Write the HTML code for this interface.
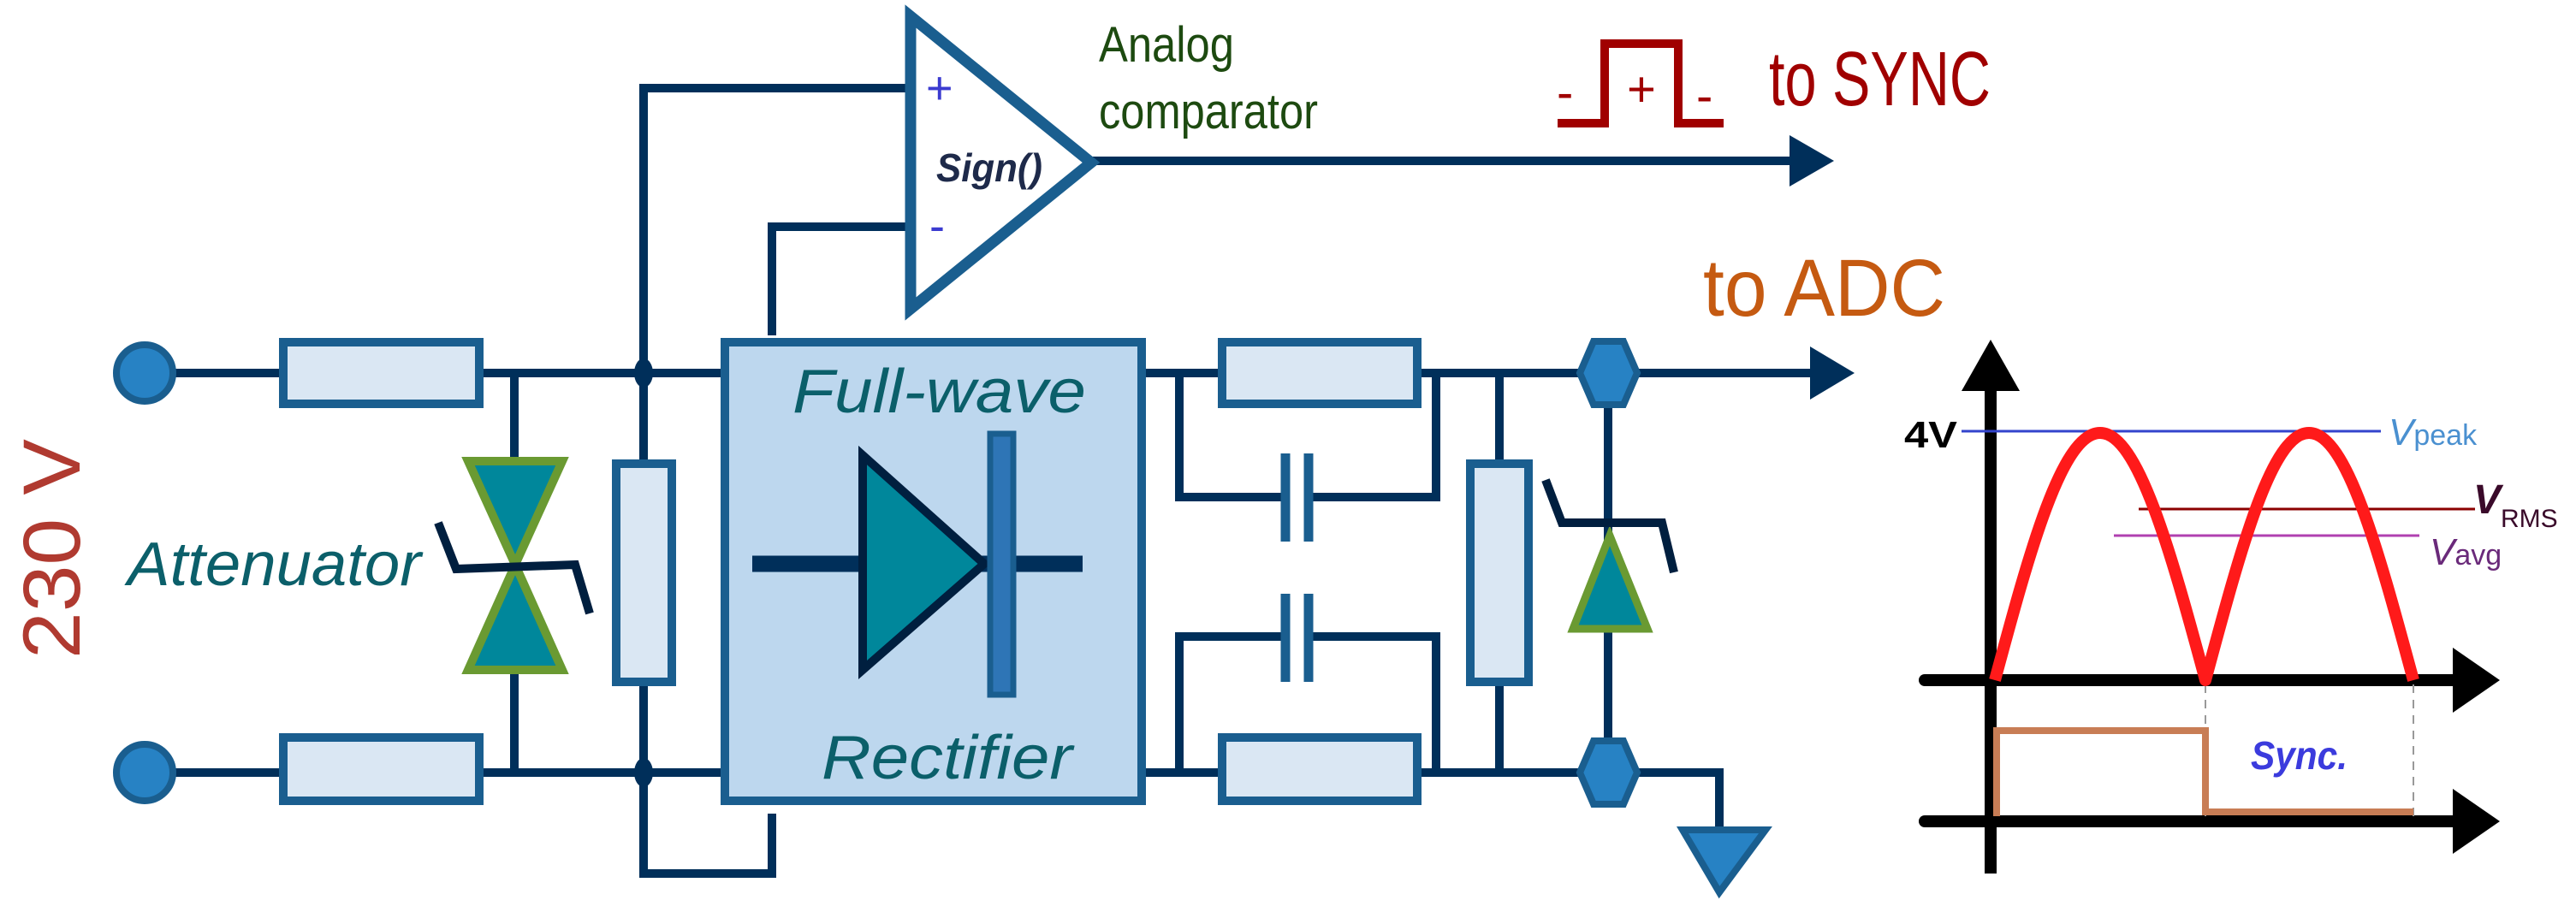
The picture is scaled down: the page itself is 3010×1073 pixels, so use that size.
<!DOCTYPE html>
<html><head><meta charset="utf-8"><style>
html,body{margin:0;padding:0;background:#fff;}
svg{display:block;}
text{font-family:"Liberation Sans",sans-serif;}
</style></head><body>
<svg width="3010" height="1073" viewBox="0 0 3010 1073" xmlns="http://www.w3.org/2000/svg">
<g fill="none" stroke="#002f5a" stroke-width="10">
  <line x1="169" y1="436" x2="847" y2="436"/>
  <line x1="169" y1="903" x2="847" y2="903"/>
  <line x1="601" y1="436" x2="601" y2="540"/>
  <line x1="601" y1="782" x2="601" y2="903"/>
  <polyline points="1061,103 752,103 752,1021 902,1021 902,951"/>
  <polyline points="1061,265 902,265 902,392"/>
  <line x1="1277" y1="188" x2="2100" y2="188"/>
  <line x1="1334" y1="436" x2="1850" y2="436"/>
  <line x1="1334" y1="903" x2="1850" y2="903"/>
  <polyline points="1378,436 1378,581 1502,581"/>
  <polyline points="1529,581 1678,581 1678,436"/>
  <polyline points="1378,903 1378,744 1502,744"/>
  <polyline points="1529,744 1678,744 1678,903"/>
  <line x1="1752" y1="436" x2="1752" y2="903"/>
  <line x1="1879" y1="436" x2="1879" y2="903"/>
  <line x1="1913" y1="436" x2="2125" y2="436"/>
  <polyline points="1913,903 2009,903 2009,972"/>
</g>
<g stroke="#1a5e8f" stroke-width="11">
  <line x1="1502" y1="530" x2="1502" y2="633"/>
  <line x1="1529" y1="530" x2="1529" y2="633"/>
  <line x1="1502" y1="694" x2="1502" y2="797"/>
  <line x1="1529" y1="694" x2="1529" y2="797"/>
</g>
<polygon points="2091,158 2143,188 2091,218" fill="#002f5a"/>
<polygon points="2115,405 2167,436 2115,467" fill="#002f5a"/>
<circle cx="169" cy="436" r="33" fill="#2782c4" stroke="#1a5e8f" stroke-width="8"/>
<circle cx="169" cy="903" r="33" fill="#2782c4" stroke="#1a5e8f" stroke-width="8"/>
<g fill="#dae7f3" stroke="#1a5e8f" stroke-width="10">
  <rect x="331" y="400" width="229" height="72"/>
  <rect x="331" y="862" width="229" height="74"/>
  <rect x="720" y="542" width="65" height="255"/>
  <rect x="1428" y="400" width="228" height="72"/>
  <rect x="1428" y="862" width="228" height="74"/>
  <rect x="1718" y="542" width="68" height="255"/>
</g>
<ellipse cx="752" cy="436" rx="11" ry="17" fill="#002f5a"/>
<ellipse cx="752" cy="903" rx="11" ry="17" fill="#002f5a"/>
<polygon points="547,539 657,539 602,660 657,783 547,783 602,660" fill="#00879b" stroke="#6a9a32" stroke-width="10" stroke-linejoin="miter"/>
<polyline points="512,611 533,665 672,660 689,717" fill="none" stroke="#001f3f" stroke-width="10"/>
<polygon points="1064,19 1064,361 1275,190" fill="#fff" stroke="#1a5e8f" stroke-width="13" stroke-linejoin="miter"/>
<text x="1082" y="121" font-size="54" fill="#3b3bd0">+</text>
<text x="1086" y="282" font-size="54" fill="#3b3bd0">-</text>
<text x="1094" y="212" font-size="46" font-style="italic" font-weight="bold" fill="#1e2a4a" textLength="124" lengthAdjust="spacingAndGlyphs">Sign()</text>
<text x="1284" y="72" font-size="58" fill="#1d4a10" textLength="158" lengthAdjust="spacingAndGlyphs">Analog</text>
<text x="1284" y="150" font-size="58" fill="#1d4a10" textLength="256" lengthAdjust="spacingAndGlyphs">comparator</text>
<rect x="847" y="400" width="487" height="536" fill="#bdd7ee" stroke="#1a5e8f" stroke-width="10"/>
<line x1="879" y1="659" x2="1265" y2="659" stroke="#002f5a" stroke-width="19"/>
<polygon points="1008,532 1008,783 1150,659" fill="#00879b" stroke="#001f3f" stroke-width="10" stroke-linejoin="miter"/>
<rect x="1157" y="507" width="27" height="305" fill="#2e75b6" stroke="#1a5e8f" stroke-width="7"/>
<text x="926" y="482" font-size="72" font-style="italic" fill="#0b5f6a" textLength="343" lengthAdjust="spacingAndGlyphs">Full-wave</text>
<text x="960" y="910" font-size="72" font-style="italic" fill="#0b5f6a" textLength="293" lengthAdjust="spacingAndGlyphs">Rectifier</text>
<text x="149" y="684" font-size="72" font-style="italic" fill="#0b5f6a" textLength="343" lengthAdjust="spacingAndGlyphs">Attenuator</text>
<text transform="translate(93,770) rotate(-90)" font-size="95" fill="#b03a30" textLength="257" lengthAdjust="spacingAndGlyphs">230 V</text>
<polygon points="1881,626 1838,735 1925,735" fill="#00879b" stroke="#6a9a32" stroke-width="9" stroke-linejoin="miter"/>
<polyline points="1806,561 1825,611 1942,611 1956,669" fill="none" stroke="#001f3f" stroke-width="10"/>
<polygon points="1846,436 1862,399 1897,399 1913,436 1897,473 1862,473" fill="#2782c4" stroke="#1a5e8f" stroke-width="8"/>
<polygon points="1846,903 1862,866 1897,866 1913,903 1897,940 1862,940" fill="#2782c4" stroke="#1a5e8f" stroke-width="8"/>
<polygon points="1966,970 2063,970 2009,1043" fill="#2782c4" stroke="#1a5e8f" stroke-width="8" stroke-linejoin="miter"/>
<polyline points="1820,144 1875,144 1875,51 1961,51 1961,144 2014,144" fill="none" stroke="#a00000" stroke-width="10"/>
<text x="1819" y="128" font-size="58" fill="#a00000">-</text>
<text x="1901" y="124" font-size="58" fill="#a00000">+</text>
<text x="1982" y="132" font-size="58" fill="#a00000">-</text>
<text x="2067" y="123" font-size="90" fill="#a00000" textLength="259" lengthAdjust="spacingAndGlyphs">to SYNC</text>
<text x="1990" y="369" font-size="95" fill="#c55a11" textLength="283" lengthAdjust="spacingAndGlyphs">to ADC</text>
<g stroke="#000" stroke-width="14">
  <line x1="2326" y1="450" x2="2326" y2="1021"/>
  <line x1="2249" y1="795" x2="2870" y2="795" stroke-linecap="round"/>
  <line x1="2249" y1="960" x2="2870" y2="960" stroke-linecap="round"/>
</g>
<polygon points="2326,397 2292,457 2360,457" fill="#000"/>
<polygon points="2866,757 2921,795 2866,833" fill="#000"/>
<polygon points="2866,922 2921,960 2866,998" fill="#000"/>
<line x1="2577" y1="800" x2="2577" y2="955" stroke="#999" stroke-width="2" stroke-dasharray="10,8"/>
<line x1="2820" y1="800" x2="2820" y2="955" stroke="#999" stroke-width="2" stroke-dasharray="10,8"/>
<line x1="2292" y1="504" x2="2782" y2="504" stroke="#3344cc" stroke-width="3"/>
<line x1="2499" y1="595" x2="2892" y2="595" stroke="#8b0000" stroke-width="3"/>
<line x1="2470" y1="626" x2="2827" y2="626" stroke="#b040b0" stroke-width="3"/>
<path d="M2331,795 C2372,643 2409,506 2454,506 C2498,506 2536,643 2577,795 C2618,643 2654,506 2698,506 C2742,506 2779,643 2820,795" fill="none" stroke="#ff1a1a" stroke-width="14" stroke-linejoin="round"/>
<polyline points="2333,954 2333,854 2577,854 2577,949 2820,949" fill="none" stroke="#c87d55" stroke-width="8"/>
<text x="2225" y="523" font-size="44" font-weight="bold" fill="#000" textLength="62" lengthAdjust="spacingAndGlyphs">4V</text>
<text x="2791" y="520" font-size="44" font-style="italic" fill="#4a90d0">V<tspan font-size="34" font-style="normal">peak</tspan></text>
<text x="2890" y="600" font-size="48" font-style="italic" font-weight="bold" fill="#3a0a2a">V<tspan font-size="30" font-style="normal" font-weight="normal" dy="16">RMS</tspan></text>
<text x="2839" y="660" font-size="44" font-style="italic" fill="#6a2a7a">V<tspan font-size="34" font-style="normal">avg</tspan></text>
<text x="2630" y="899" font-size="46" font-style="italic" font-weight="bold" fill="#3b3bdd" textLength="113" lengthAdjust="spacingAndGlyphs">Sync.</text>
</svg>
</body></html>
